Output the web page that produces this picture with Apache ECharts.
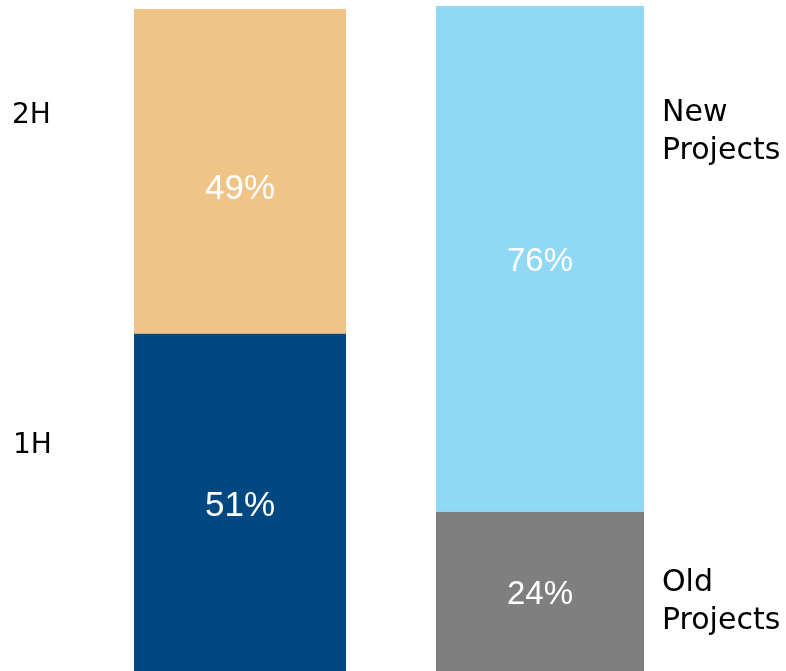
<!DOCTYPE html>
<html>
<head>
<meta charset="utf-8">
<script src="https://cdn.jsdelivr.net/npm/echarts@6/dist/echarts.min.js"></script>
<style>
html,body{margin:0;padding:0;background:#fff;}
#chart{width:786px;height:671px;}
</style>
</head>
<body>
<div id="chart"></div>
<script>
const leftCategory = ['Half'];
const rightCategory = ['Project'];
const h1 = [51];
const h2 = [49];
const oldProjects = [24];
const newProjects = [76];
const seriesNames = ['1H', '2H', 'Old Projects', 'New Projects'];
const colors = ['#004882', '#F0C487', '#7F7F7F', '#8FD9F7'];

const SIDE_FONT = 'DejaVu Sans';
const PCT_FONT = 'Liberation Sans';
const chart = echarts.init(document.getElementById('chart'), null, {renderer: 'canvas'});

function mkSeries(name, vals, color, axisIdx, stack, offY, size) {
  return {
    name: name,
    type: 'bar',
    stack: stack,
    xAxisIndex: axisIdx,
    yAxisIndex: axisIdx,
    barWidth: '100%',
    data: vals,
    itemStyle: {color: color},
    label: {
      show: true,
      position: 'inside',
      offset: [0, offY],
      formatter: p => p.value + '%',
      color: '#ffffff',
      fontFamily: PCT_FONT,
      fontSize: size
    }
  };
}

chart.setOption({
  animation: false,
  grid: [
    {left: 134, width: 212, top: 9, bottom: 0, containLabel: false},
    {left: 436, width: 208, top: 6, bottom: 0, containLabel: false}
  ],
  xAxis: [
    {type: 'category', data: leftCategory, show: false, gridIndex: 0},
    {type: 'category', data: rightCategory, show: false, gridIndex: 1}
  ],
  yAxis: [
    {type: 'value', min: 0, max: 100, show: false, gridIndex: 0},
    {type: 'value', min: 0, max: 100, show: false, gridIndex: 1}
  ],
  series: [
    mkSeries(seriesNames[0], h1, colors[0], 0, 'L', 4, 35),
    mkSeries(seriesNames[1], h2, colors[1], 0, 'L', 18, 35),
    mkSeries(seriesNames[2], oldProjects, colors[2], 1, 'R', 4, 33),
    mkSeries(seriesNames[3], newProjects, colors[3], 1, 'R', 3, 33)
  ],
  graphic: [
    {type: 'text', left: 12, top: 102, style: {text: '2H', fontFamily: SIDE_FONT, fontSize: 28, fill: '#000'}},
    {type: 'text', left: 13, top: 432, style: {text: '1H', fontFamily: SIDE_FONT, fontSize: 28, fill: '#000'}},
    {type: 'text', left: 662, top: 94, style: {text: 'New\nProjects', fontFamily: SIDE_FONT, fontSize: 30, lineHeight: 38, fill: '#000'}},
    {type: 'text', left: 662, top: 564, style: {text: 'Old\nProjects', fontFamily: SIDE_FONT, fontSize: 30, lineHeight: 38, fill: '#000'}}
  ]
});
</script>
</body>
</html>
